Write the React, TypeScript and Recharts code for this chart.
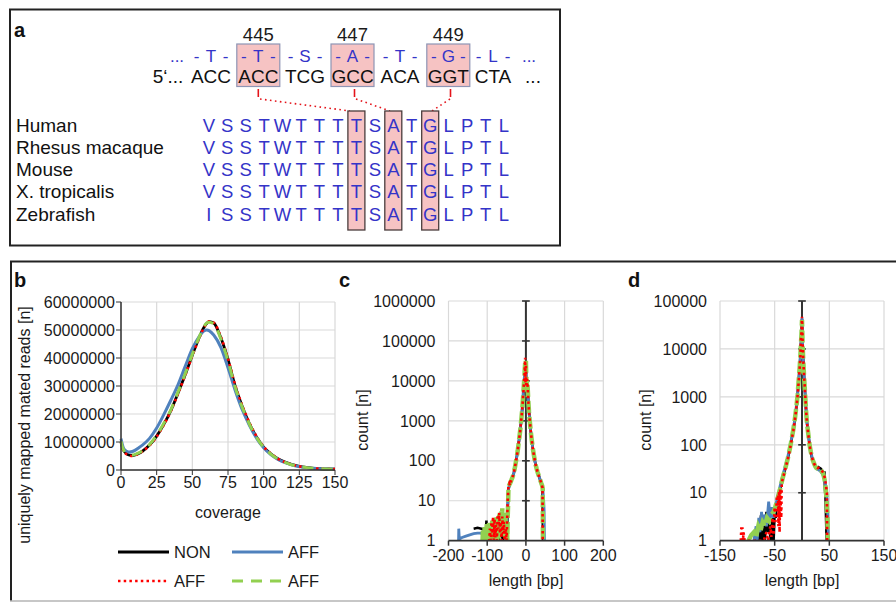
import React from 'react';
import { LineChart, Line, XAxis, YAxis, CartesianGrid, ReferenceLine } from 'recharts';

const FONT = '"Liberation Sans", Arial, Helvetica, sans-serif';

// ---------- Panel a content ----------
const residueNumbers = ['445', '447', '449'];
const aminoAcids = ['T', 'T', 'S', 'A', 'T', 'G', 'L'];
const codons = ['ACC', 'ACC', 'TCG', 'GCC', 'ACA', 'GGT', 'CTA'];
const highlightedCodons = [1, 3, 5];
const species = ['Human', 'Rhesus macaque', 'Mouse', 'X. tropicalis', 'Zebrafish'];
const sequences = [
  'VSSTWTTTTSATGLPTL',
  'VSSTWTTTTSATGLPTL',
  'VSSTWTTTTSATGLPTL',
  'VSSTWTTTTSATGLPTL',
  'ISSTWTTTTSATGLPTL',
];
const highlightedResidues = [8, 10, 12];

// ---------- Panel b data (coverage vs reads, millions) ----------
const coverage = [0, 1, 2, 4, 6, 8, 10, 12, 15, 20, 25, 30, 35, 40, 45, 50, 55, 58, 60, 62, 65, 70, 75, 80, 85, 90, 95, 100, 105, 110, 115, 120, 125, 130, 135, 140, 145, 150];
const readsNON = [10, 8, 6.8, 5.8, 5.3, 5.2, 5.4, 5.8, 6.7, 8.9, 12.1, 16.3, 21.3, 27.5, 34, 41, 47.5, 50.8, 52.3, 53, 52.5, 47.2, 39.5, 30, 22.7, 16.6, 11.8, 8.2, 5.8, 4.0, 2.8, 1.9, 1.3, 0.9, 0.6, 0.45, 0.35, 0.3];
const readsAFF1 = [11.2, 9, 7.6, 6.7, 6.4, 6.6, 7.1, 7.8, 8.9, 11.3, 15.0, 19.8, 25, 30.5, 37, 43.3, 47.8, 49.6, 50, 49.7, 48.2, 43.8, 36.5, 28.5, 21.5, 16, 11.4, 7.9, 5.5, 3.8, 2.6, 1.8, 1.2, 0.85, 0.6, 0.45, 0.35, 0.25];
const readsAFF2 = [9.8, 7.8, 6.6, 5.6, 5.1, 5.0, 5.3, 5.7, 6.6, 8.8, 11.9, 16.1, 21.1, 27.3, 33.8, 40.8, 47.3, 50.7, 52.3, 53.1, 52.6, 47.5, 39.8, 30.4, 23, 16.9, 12, 8.3, 5.9, 4.0, 2.8, 1.9, 1.3, 0.9, 0.6, 0.45, 0.35, 0.3];
const readsAFF3 = [10.2, 8.2, 7.0, 6.0, 5.5, 5.4, 5.6, 6.0, 6.9, 9.1, 12.4, 16.7, 21.6, 27.9, 34.4, 41.3, 47.7, 51.0, 52.5, 52.8, 52.2, 46.8, 39.0, 29.6, 22.4, 16.4, 11.6, 8.1, 5.7, 3.9, 2.7, 1.8, 1.25, 0.85, 0.6, 0.42, 0.32, 0.25];

// ---------- Panel c data (length [bp], count) ----------
const cNON: [number, number][] = [
  [-135, 2], [-125, 2.1], [-115, 2], [-108, 1.9], [-103, 1.7], [-102, 3.2], [-101, 1], [-99, 1.5], [-97, 1], [-95, 2], [-93, 1], [-90, 1.3], [-87, 1], [-84, 2.2], [-81, 1], [-78, 1.8], [-75, 1], [-72, 2.5], [-70, 1], [-67, 3], [-65, 1.2], [-62, 2.8], [-60, 1], [-57, 2], [-55, 1], [-52, 1.5], [-50, 2], [-49, 1], [-47, 6],
  [-45, 20], [-43, 23], [-41, 26], [-39, 29], [-37, 33], [-35, 37], [-33, 42], [-31, 50], [-29, 62], [-27, 80], [-25, 105], [-23, 135], [-21, 180], [-19, 260], [-17, 370], [-15, 540], [-13, 820], [-11, 1300], [-9, 2200], [-7, 4200], [-5, 8500], [-4, 11000], [-3, 17000], [-2, 24000], [-1, 16000], [0, 22000], [1, 9000], [2, 7500], [3, 10500], [4, 8500], [5, 5500], [6, 3400], [7, 2400], [8, 1700], [10, 1000], [12, 620], [14, 400], [16, 280], [18, 200], [20, 150], [22, 115], [24, 90], [26, 74], [28, 62], [30, 53], [32, 46], [34, 40], [36, 35], [38, 31], [40, 27], [42, 24], [43, 20], [44, 1],
];
const cAFF1: [number, number][] = [
  [-174, 1], [-173.5, 2], [-172, 1.1], [-165, 1.2], [-155, 1.3], [-145, 1.4], [-135, 1.5], [-125, 1.55], [-117, 1.55], [-112, 1.45], [-110, 1], [-106, 1.6], [-103, 1], [-99, 2.2], [-96, 1], [-92, 1.8], [-88, 1], [-85, 2.5], [-82, 1.2], [-78, 3], [-75, 1.3], [-71, 3.5], [-68, 1.5], [-64, 4], [-61, 1.8], [-58, 3.5], [-55, 1.5], [-52, 3], [-50, 1.2], [-48, 5],
  [-46, 14], [-44, 22], [-42, 25], [-40, 28], [-38, 31], [-36, 35], [-34, 40], [-32, 46], [-30, 56], [-28, 70], [-26, 92], [-24, 118], [-22, 160], [-20, 225], [-18, 320], [-16, 460], [-14, 700], [-12, 1100], [-10, 1800], [-8, 3400], [-6, 7800], [-4, 12500], [-3, 18000], [-2, 26000], [-1, 15000], [0, 21000], [1, 8500], [2, 7000], [3, 10000], [4, 8000], [5, 5300], [6, 3300], [7, 2300], [8, 1650], [10, 980], [12, 610], [14, 395], [16, 280], [18, 200], [20, 150], [22, 116], [24, 92], [26, 75], [28, 63], [30, 54], [32, 47], [34, 41], [36, 36], [38, 32], [40, 28], [42, 24], [44, 18], [46, 10], [47, 6], [48, 1],
];
const cAFF2: [number, number][] = [
  [-97, 1], [-95, 1], [-93, 2], [-91, 1], [-89, 3], [-87, 1.5], [-85, 4], [-83, 1], [-81, 3.5], [-79, 1.2], [-77, 2.5], [-75, 1], [-73, 4.5], [-71, 2], [-69, 5], [-67, 1.5], [-65, 3], [-63, 1], [-61, 4], [-59, 1.5], [-57, 3], [-55, 1], [-52, 2], [-50, 1], [-47, 10],
  [-45, 24], [-43, 27], [-41, 24], [-39, 30], [-37, 34], [-35, 38], [-33, 44], [-31, 52], [-29, 64], [-27, 82], [-25, 108], [-23, 140], [-21, 185], [-19, 265], [-17, 380], [-15, 550], [-13, 840], [-11, 1350], [-9, 2300], [-7, 4400], [-5, 9000], [-4, 12000], [-3, 20000], [-2, 38000], [-1, 9000], [0, 26000], [1, 7000], [2, 8000], [3, 11000], [4, 9000], [5, 5800], [6, 3500], [7, 2500], [8, 1750], [10, 1020], [12, 630], [14, 410], [16, 285], [18, 205], [20, 152], [22, 117], [24, 90], [26, 74], [28, 62], [30, 53], [32, 46], [34, 40], [36, 35], [38, 31], [40, 27], [42, 23], [43, 21], [43.5, 1],
];
const cAFF3: [number, number][] = [
  [-112, 1], [-111, 1.8], [-110, 1], [-109, 1.5], [-108, 1], [-107, 2.2], [-106, 1], [-105, 1.6], [-104, 1], [-103, 2], [-102, 1], [-101, 2.6], [-100, 1], [-99, 1.8], [-98, 1], [-97, 2.4], [-96, 1], [-95, 3], [-94, 1.2], [-93, 2], [-92, 1], [-91, 2.8], [-90, 1], [-89, 1.6], [-88, 1], [-87, 3.2], [-86, 1.1], [-85, 2.2], [-84, 1], [-83, 2.8], [-82, 1], [-81, 3.5], [-80, 1.2], [-79, 2.4], [-78, 1], [-77, 3.8], [-76, 1.3], [-75, 2.6], [-74, 1], [-73, 4.2], [-72, 1.5], [-71, 3], [-70, 1.1], [-69, 4.5], [-68, 1.6], [-67, 5], [-66, 1.4], [-65, 4], [-64, 2], [-63, 5.5], [-62, 1.8], [-61, 6.5], [-60, 2], [-59, 4.6], [-58, 1.5], [-57, 5], [-56, 1.5], [-55, 3.6], [-54, 1.2], [-53, 4], [-52, 1.2], [-51, 3], [-50, 1], [-49, 2.5], [-48, 1], [-47, 4], [-46, 8],
  [-45, 22], [-43, 25], [-41, 27], [-39, 30], [-37, 34], [-35, 38], [-33, 43], [-31, 51], [-29, 63], [-27, 81], [-25, 106], [-23, 137], [-21, 182], [-19, 262], [-17, 375], [-15, 545], [-13, 830], [-11, 1320], [-9, 2250], [-7, 4300], [-5, 8700], [-4, 12000], [-3, 19000], [-2, 27000], [-1, 30000], [0, 33000], [1, 12000], [2, 8000], [3, 10000], [4, 8200], [5, 5600], [6, 3450], [7, 2450], [8, 1700], [10, 1000], [12, 625], [14, 405], [16, 282], [18, 202], [20, 151], [22, 116], [24, 90], [26, 74], [28, 62], [30, 53], [32, 46], [34, 40], [36, 35], [38, 31], [40, 27], [42, 24], [43.5, 20], [44, 1],
];

// ---------- Panel d data (length [bp], count) ----------
const dNON: [number, number][] = [
  [-85, 1], [-80, 2], [-78, 1], [-75, 3.4], [-73, 1], [-70, 3], [-68, 1], [-65, 4], [-62, 1.5], [-60, 2.2], [-57, 1], [-54, 3], [-52, 1], [-50, 4], [-48, 3], [-46, 6],
  [-44, 8], [-42, 10], [-40, 12], [-38, 15], [-36, 19], [-34, 23], [-32, 28], [-30, 34], [-28, 42], [-26, 52], [-24, 65], [-22, 85], [-20, 110], [-18, 150], [-16, 200], [-14, 280], [-12, 420], [-10, 650], [-8, 1100], [-6, 2200], [-4, 4500], [-3, 7000], [-2, 12000], [-1, 20000], [0, 42000], [1, 15000], [2, 7000], [3, 4000], [4, 2500], [5, 1600], [6, 1000], [7, 650], [8, 420], [9, 300], [10, 230], [12, 150], [14, 95], [16, 70], [18, 55], [20, 46], [22, 40], [24, 36], [26, 33], [28, 32], [30, 34], [32, 33], [34, 32], [36, 30], [38, 28], [40, 25], [41, 28], [42, 12], [43, 8], [44, 3], [45, 1],
];
const dAFF1: [number, number][] = [
  [-88, 1], [-84, 2], [-82, 1], [-79, 3], [-77, 1.5], [-74, 4], [-72, 2], [-68, 3.5], [-65, 2], [-61, 6.5], [-58, 3], [-55, 5], [-52, 3], [-49, 5], [-46, 7],
  [-44, 9], [-42, 11], [-40, 14], [-38, 17], [-36, 21], [-34, 26], [-32, 31], [-30, 38], [-28, 46], [-26, 57], [-24, 72], [-22, 92], [-20, 120], [-18, 160], [-16, 215], [-14, 300], [-12, 450], [-10, 700], [-8, 1200], [-6, 2300], [-4, 4600], [-3, 7200], [-2, 12500], [-1, 21000], [0, 44000], [1, 14000], [2, 6800], [3, 3900], [4, 2400], [5, 1550], [6, 980], [7, 640], [8, 410], [9, 300], [10, 235], [12, 155], [14, 100], [16, 75], [18, 58], [20, 48], [22, 42], [24, 37], [26, 34], [28, 31], [30, 30], [32, 29], [34, 28], [36, 26], [38, 24], [40, 22], [42, 18], [44, 12], [45.5, 9], [47, 4], [48.5, 1],
];
const dAFF2: [number, number][] = [
  [-112, 1], [-111, 1.8], [-109, 1.8], [-108, 1], [-107, 1.5], [-105, 1], [-70, 1], [-65, 1.5], [-62, 1], [-58, 2], [-56, 1.2], [-54, 3], [-52, 1.3], [-50, 5], [-48, 2.5], [-46, 8], [-44, 9], [-43, 2], [-42, 11], [-41, 1.5], [-40, 12], [-38, 3], [-37, 16],
  [-36, 18], [-34, 22], [-32, 27], [-30, 33], [-28, 41], [-26, 50], [-24, 63], [-22, 82], [-20, 108], [-18, 145], [-16, 195], [-14, 275], [-12, 410], [-10, 640], [-8, 1080], [-6, 2150], [-4, 4400], [-3, 6800], [-2, 16000], [-1, 22000], [0, 47000], [1, 17000], [2, 7200], [3, 4100], [4, 2550], [5, 1650], [6, 1020], [7, 660], [8, 430], [9, 305], [10, 232], [12, 150], [14, 96], [16, 71], [18, 56], [20, 47], [22, 41], [24, 37], [26, 34], [28, 33], [30, 33], [32, 32], [34, 31], [36, 29], [38, 27], [40, 24], [42, 20], [44, 14], [45.5, 10], [46, 1],
];
const dAFF3: [number, number][] = [
  [-98, 1], [-93, 1.3], [-88, 1.5], [-84, 1.2], [-80, 2], [-76, 1.6], [-72, 2.4], [-68, 2], [-64, 3], [-60, 2.6], [-56, 3.5], [-52, 4], [-49, 5], [-46, 6.5],
  [-43, 9], [-40, 12], [-38, 15], [-36, 19], [-34, 23], [-32, 28], [-30, 34], [-28, 42], [-26, 52], [-24, 66], [-22, 86], [-20, 112], [-18, 152], [-16, 205], [-14, 285], [-12, 430], [-10, 660], [-8, 1120], [-6, 2250], [-4, 4550], [-3, 7100], [-2, 12200], [-1, 20500], [0, 40000], [1, 14500], [2, 6900], [3, 3950], [4, 2450], [5, 1580], [6, 990], [7, 645], [8, 415], [9, 300], [10, 232], [12, 152], [14, 97], [16, 72], [18, 56], [20, 47], [22, 41], [24, 36], [26, 33], [28, 32], [30, 32], [32, 31], [34, 30], [36, 28], [38, 26], [40, 22], [42, 17], [44, 10], [45, 7], [46.5, 3], [47, 1],
];

// ---------- Axis ticks ----------
const bXTicks = [0, 25, 50, 75, 100, 125, 150];
const bYTicks = [0, 10000000, 20000000, 30000000, 40000000, 50000000, 60000000];
const cXTicks = [-200, -100, 0, 100, 200];
const cYTicks = [1, 10, 100, 1000, 10000, 100000, 1000000];
const dXTicks = [-150, -50, 50, 150];
const dYTicks = [1, 10, 100, 1000, 10000, 100000];

const seriesNames = ['NON', 'AFF', 'AFF', 'AFF'];

// ---------- Styles ----------
const BLACK = '#000000';
const BLUE = '#4f81bd';
const RED = '#ff0000';
const GREEN = '#92d050';
const GRID = '#d9d9d9';
const AXIS = '#333333';
const TEXT = '#1a1a1a';
const AA_BLUE = '#3434c8';

const bRows = coverage.map((c, i) => ({
  x: c,
  non: readsNON[i] * 1000000,
  aff1: readsAFF1[i] * 1000000,
  aff2: readsAFF2[i] * 1000000,
  aff3: readsAFF3[i] * 1000000,
}));
const toRows = (arr: [number, number][]) => arr.map(([x, y]) => ({ x, y }));

const tickStyle = { fill: TEXT, fontSize: 16, fontFamily: FONT };

function PanelA() {
  const codonX = [211, 258.3, 305, 352.5, 400, 448.3, 493];
  const numberX = [258.3, 352.5, 448.3];
  const letterX0 = 208.8;
  const letterStep = 18.45;
  const rowY0 = 131.5;
  const rowStep = 22.3;
  return (
    <g fontFamily={FONT}>
      <rect x={10} y={9.5} width={550} height={236} fill="none" stroke="#222" strokeWidth={2} />
      <text x={14} y={37} fontSize={20} fontWeight="bold" fill="#111">a</text>
      {highlightedCodons.map((ci) => (
        <rect key={'cb' + ci} x={codonX[ci] - 21.5} y={44} width={43} height={42.5} fill="#f6c3c3" stroke="#8e95b5" strokeWidth={1.2} />
      ))}
      {residueNumbers.map((n, i) => (
        <text key={n} x={numberX[i]} y={41} fontSize={18.5} textAnchor="middle" fill={TEXT}>{n}</text>
      ))}
      <text x={177} y={62} fontSize={17} textAnchor="middle" fill={AA_BLUE}>...</text>
      {aminoAcids.map((aa, i) => (
        <g key={'aa' + i} fontSize={17} fill={AA_BLUE} textAnchor="middle">
          <text x={codonX[i] - 14.5} y={62}>-</text>
          <text x={codonX[i]} y={62}>{aa}</text>
          <text x={codonX[i] + 14.5} y={62}>-</text>
        </g>
      ))}
      <text x={529} y={62} fontSize={17} textAnchor="middle" fill={AA_BLUE}>...</text>
      <text x={168} y={83} fontSize={19} textAnchor="middle" fill="#111">5‘...</text>
      {codons.map((c, i) => (
        <text key={'cd' + i} x={codonX[i]} y={83} fontSize={19} textAnchor="middle" fill="#111">{c}</text>
      ))}
      <text x={533} y={83} fontSize={19} textAnchor="middle" fill="#111">...</text>
      <g stroke="#e4141b" strokeWidth={1.6} fill="none">
        <line x1={258.3} y1={89} x2={258.3} y2={97} />
        <line x1={354.5} y1={89} x2={354.5} y2={97} />
        <line x1={450.5} y1={89} x2={450.5} y2={97} />
        <polyline points="260,99 350,111" strokeDasharray="1.6 3.4" />
        <polyline points="356,99 390,111" strokeDasharray="1.6 3.4" />
        <polyline points="450,99 432,111" strokeDasharray="1.6 3.4" />
      </g>
      {highlightedResidues.map((ri) => (
        <rect key={'rb' + ri} x={letterX0 + ri * letterStep - 8.5} y={111} width={17} height={119} fill="#f6c3c3" stroke="#4a3c3c" strokeWidth={1.3} />
      ))}
      {species.map((s, r) => (
        <text key={s} x={16} y={rowY0 + r * rowStep} fontSize={19} fill="#111">{s}</text>
      ))}
      {sequences.map((seq, r) =>
        seq.split('').map((ch, i) => (
          <text key={r + '-' + i} x={letterX0 + i * letterStep} y={rowY0 + r * rowStep} fontSize={18.5} textAnchor="middle" fill={AA_BLUE}>{ch}</text>
        ))
      )}
    </g>
  );
}

function LegendB() {
  const items = [
    { x: 118, y: 552, color: BLACK, dash: undefined as string | undefined, w: 2.8 },
    { x: 232, y: 552, color: BLUE, dash: undefined as string | undefined, w: 2.8 },
    { x: 118, y: 581, color: RED, dash: '2.5 3.2', w: 2.6 },
    { x: 232, y: 581, color: GREEN, dash: '11 8', w: 3 },
  ];
  return (
    <g fontFamily={FONT}>
      {items.map((it, i) => (
        <g key={i}>
          <line x1={it.x} y1={it.y} x2={it.x + 51} y2={it.y} stroke={it.color} strokeWidth={it.w} strokeDasharray={it.dash} />
          <text x={it.x + 56} y={it.y + 6} fontSize={16.5} fill={TEXT}>{seriesNames[i]}</text>
        </g>
      ))}
    </g>
  );
}

function Overlay() {
  return (
    <svg width={896} height={605} style={{ position: 'absolute', left: 0, top: 0 }}>
      <PanelA />
      <line x1={10} y1={261.5} x2={896} y2={261.5} stroke="#222" strokeWidth={2} />
      <line x1={11} y1={261} x2={11} y2={601} stroke="#222" strokeWidth={2} />
      <line x1={10} y1={601} x2={896} y2={601} stroke="#b5b5b5" strokeWidth={1.5} />
      <g fontFamily={FONT} fill="#111">
        <text x={14} y={287} fontSize={20} fontWeight="bold">b</text>
        <text x={339} y={287} fontSize={20} fontWeight="bold">c</text>
        <text x={628} y={287} fontSize={20} fontWeight="bold">d</text>
      </g>
      <g fontFamily={FONT} fill={TEXT} fontSize={16}>
        <text x={24.5} y={425} textAnchor="middle" dominantBaseline="central" transform="rotate(-90 24.5 425)">uniquely mapped mated reads [n]</text>
        <text x={228} y={518} textAnchor="middle">coverage</text>
        <text x={362} y={420} textAnchor="middle" dominantBaseline="central" transform="rotate(-90 362 420)">count [n]</text>
        <text x={526} y={586} textAnchor="middle">length [bp]</text>
        <text x={645} y={420} textAnchor="middle" dominantBaseline="central" transform="rotate(-90 645 420)">count [n]</text>
        <text x={802} y={586} textAnchor="middle">length [bp]</text>
      </g>
      <LegendB />
    </svg>
  );
}

function PanelB() {
  return (
    <div style={{ position: 'absolute', left: 0, top: 262 }}>
      <LineChart width={350} height={240} data={bRows} margin={{ top: 40, right: 15, bottom: 2, left: 0 }}>
        <CartesianGrid stroke={GRID} strokeWidth={1.2} />
        <XAxis type="number" dataKey="x" domain={[0, 150]} ticks={bXTicks} interval={0} height={30}
          tick={tickStyle} tickSize={5} tickMargin={2} stroke={AXIS} axisLine={{ stroke: AXIS, strokeWidth: 1.5 }} tickLine={{ stroke: AXIS }} />
        <YAxis type="number" domain={[0, 60000000]} ticks={bYTicks} interval={0} width={121}
          tick={tickStyle} tickSize={5} tickMargin={1} axisLine={{ stroke: AXIS, strokeWidth: 1.5 }} tickLine={{ stroke: AXIS }} />
        <Line type="monotone" dataKey="non" stroke={BLACK} strokeWidth={2.8} dot={false} activeDot={false} isAnimationActive={false} />
        <Line type="monotone" dataKey="aff1" stroke={BLUE} strokeWidth={3} dot={false} activeDot={false} isAnimationActive={false} />
        <Line type="monotone" dataKey="aff2" stroke={RED} strokeWidth={2.6} strokeDasharray="2.5 3.2" dot={false} activeDot={false} isAnimationActive={false} />
        <Line type="monotone" dataKey="aff3" stroke={GREEN} strokeWidth={3} strokeDasharray="11 8" dot={false} activeDot={false} isAnimationActive={false} />
      </LineChart>
    </div>
  );
}

function LogPanel(props: {
  left: number; width: number; yAxisWidth: number; rightMargin: number;
  xDomain: [number, number]; xTicks: number[]; yDomain: [number, number]; yTicks: number[];
  series: [number, number][][]; tickHalf: number;
}) {
  const { left, width, yAxisWidth, rightMargin, xDomain, xTicks, yDomain, yTicks, series, tickHalf } = props;
  const [non, aff1, aff2, aff3] = series;
  return (
    <div style={{ position: 'absolute', left, top: 262 }}>
      <LineChart width={width} height={330} margin={{ top: 39, right: rightMargin, bottom: 21.3, left: 0 }}>
        <CartesianGrid stroke={GRID} strokeWidth={1.2} />
        <XAxis type="number" dataKey="x" domain={xDomain} ticks={xTicks} interval={0} height={30} allowDataOverflow
          tick={tickStyle} tickSize={5} tickMargin={4} axisLine={{ stroke: AXIS, strokeWidth: 1.8 }} tickLine={{ stroke: AXIS, strokeWidth: 1.5 }} />
        <YAxis type="number" scale="log" domain={yDomain} ticks={yTicks} interval={0} width={yAxisWidth} allowDataOverflow
          tick={tickStyle} tickSize={0} tickMargin={13} axisLine={false} tickLine={false} />
        <ReferenceLine x={0} stroke={AXIS} strokeWidth={2} ifOverflow="extendDomain" />
        {yTicks.slice(1).map((v) => (
          <ReferenceLine key={v} segment={[{ x: -tickHalf, y: v }, { x: tickHalf, y: v }]} stroke={AXIS} strokeWidth={1.6} />
        ))}
        <Line data={toRows(non)} type="linear" dataKey="y" stroke={BLACK} strokeWidth={2.6} dot={false} activeDot={false} isAnimationActive={false} />
        <Line data={toRows(aff1)} type="linear" dataKey="y" stroke={BLUE} strokeWidth={2.8} dot={false} activeDot={false} isAnimationActive={false} />
        <Line data={toRows(aff3)} type="linear" dataKey="y" stroke={GREEN} strokeWidth={4.5} strokeDasharray="12 4" dot={false} activeDot={false} isAnimationActive={false} />
        <Line data={toRows(aff2)} type="linear" dataKey="y" stroke={RED} strokeWidth={2.6} strokeDasharray="2.5 3.2" dot={false} activeDot={false} isAnimationActive={false} />
      </LineChart>
    </div>
  );
}

export default function App() {
  return (
    <div style={{ position: 'absolute', left: 0, top: 0, width: 896, height: 605, background: '#fff', overflow: 'hidden', fontFamily: FONT }}>
      <Overlay />
      <PanelB />
      <LogPanel left={300} width={320} yAxisWidth={148.5} rightMargin={16.7} xDomain={[-200, 200]} xTicks={cXTicks}
        yDomain={[1, 1000000]} yTicks={cYTicks} series={[cNON, cAFF1, cAFF2, cAFF3]} tickHalf={10} />
      <LogPanel left={600} width={296} yAxisWidth={120} rightMargin={12} xDomain={[-150, 150]} xTicks={dXTicks}
        yDomain={[1, 100000]} yTicks={dYTicks} series={[dNON, dAFF1, dAFF2, dAFF3]} tickHalf={7} />
    </div>
  );
}
